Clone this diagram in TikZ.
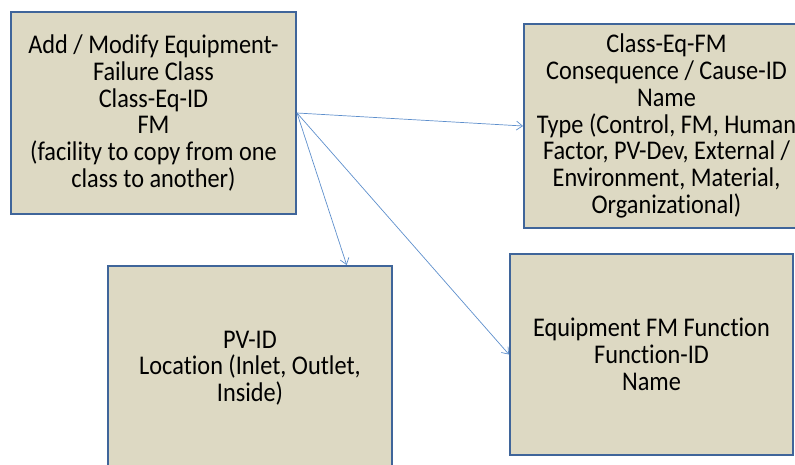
\documentclass[tikz,border=0pt]{standalone}
\usepackage{fontspec}
\setmainfont{Carlito}[FakeStretch=0.9, Ligatures=NoCommon]
\usetikzlibrary{arrows.meta,calc}
\definecolor{boxfill}{HTML}{DDD9C3}
\definecolor{boxline}{HTML}{3F659A}
\definecolor{linkline}{HTML}{5E8FCC}
\tikzset{
  infobox/.style={draw=boxline, line width=2pt, fill=boxfill, rectangle,
    inner sep=0pt, align=center, anchor=north west,
    font=\fontsize{27pt}{26.7pt}\selectfont},
  link/.style={draw=linkline, line width=0.7pt,
    -{Straight Barb[length=6pt,width=9pt,line width=0.7pt]}}
}
\begin{document}
\begin{tikzpicture}[x=1pt,y=-1pt]
  \useasboundingbox (0,0) rectangle (795,464);
  \clip (0,0) rectangle (795,464);
  \node[infobox, minimum width=285pt, minimum height=202pt] (a) at (10,11)
    {Add / Modify Equipment-\\Failure Class\\Class-Eq-ID\\FM\\(facility to copy from one\\class to another)};
  \node[infobox, minimum width=285pt, minimum height=204pt] (b) at (523,23)
    {Class-Eq-FM\\Consequence / Cause-ID\\Name\\Type (Control, FM, Human\\Factor, PV-Dev, External /\\Environment, Material,\\Organizational)};
  \node[infobox, minimum width=284pt, minimum height=204pt] (c) at (107,265)
    {PV-ID\\Location (Inlet, Outlet,\\Inside)};
  \node[infobox, minimum width=283pt, minimum height=201pt] (d) at (509,253)
    {Equipment FM Function\\Function-ID\\Name};
  \coordinate (ctop) at ($(c.north west)!0.838!(c.north east)$);
  \draw[link] (a.east) -- (b.west);
  \draw[link] (a.east) -- (ctop);
  \draw[link] (a.east) -- (d.west);
\end{tikzpicture}
\end{document}
